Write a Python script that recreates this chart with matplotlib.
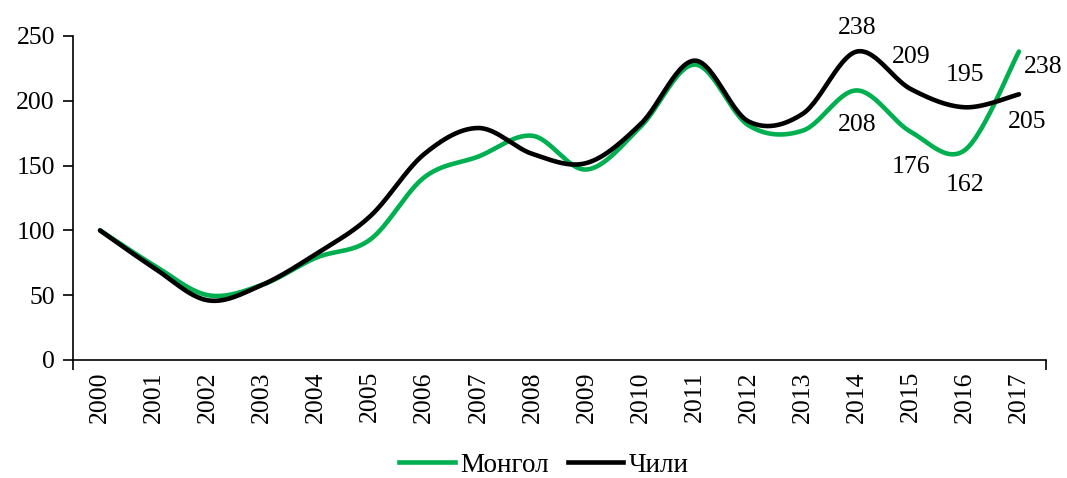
"""Монгол vs Чили index chart, 2000 = 100, smoothed lines like Excel."""

import matplotlib
matplotlib.use("Agg")
import matplotlib.pyplot as plt
import numpy as np
from matplotlib.lines import Line2D

YEARS = [str(y) for y in range(2000, 2018)]
MONGOLIA = [100, 73, 50, 58, 79, 93, 141, 157, 173, 147, 180, 228, 181, 177, 208, 176, 162, 238]
CHILE = [100, 71, 46, 58, 82, 111, 159, 179, 159, 152, 182, 231, 184, 190, 238, 209, 195, 205]

GREEN = "#00B050"
plt.rcParams["font.family"] = ["Liberation Serif", "DejaVu Serif"]


def smooth(x, y, n=30):
    """Catmull-Rom bezier smoothing (what Excel's 'smoothed line' does)."""
    x = np.asarray(x, float)
    y = np.asarray(y, float)
    px = np.concatenate([[x[0]], x, [x[-1]]])
    py = np.concatenate([[y[0]], y, [y[-1]]])
    t = np.linspace(0, 1, n)[:, None]
    xs, ys = [], []
    for i in range(1, len(px) - 2):
        p0 = np.array([px[i], py[i]])
        p3 = np.array([px[i + 1], py[i + 1]])
        c1 = p0 + (p3 - np.array([px[i - 1], py[i - 1]])) / 6
        c2 = p3 - (np.array([px[i + 2], py[i + 2]]) - p0) / 6
        pts = ((1 - t) ** 3) * p0 + 3 * ((1 - t) ** 2) * t * c1 + 3 * (1 - t) * t ** 2 * c2 + t ** 3 * p3
        xs.append(pts[:, 0])
        ys.append(pts[:, 1])
    return np.concatenate(xs), np.concatenate(ys)


fig = plt.figure(figsize=(10.67, 4.78), dpi=100)
ax = fig.add_axes([73 / 1067, 1 - 360 / 478, (1046 - 73) / 1067, (360 - 36) / 478])

x = np.arange(len(YEARS))
mx, my = smooth(x, MONGOLIA)
cx, cy = smooth(x, CHILE)
ax.plot(mx, my, color=GREEN, lw=3.3, solid_capstyle="round")
ax.plot(cx, cy, color="black", lw=3.3, solid_capstyle="round")

ax.set_xlim(-0.5, len(YEARS) - 0.5)
ax.set_ylim(0, 250)
ax.set_yticks([0, 50, 100, 150, 200, 250])
ax.set_xticks(x)
ax.set_xticklabels(YEARS, rotation=90)
ax.set_xticks([-0.5, len(YEARS) - 0.5], minor=True)
ax.tick_params(axis="x", which="major", length=0, labelsize=18.5, pad=8)
ax.tick_params(axis="x", which="minor", length=7, width=1.2, direction="out")
ax.tick_params(axis="y", length=7, width=1.2, labelsize=18.5, pad=6)
for s in ["top", "right"]:
    ax.spines[s].set_visible(False)
for s in ["left", "bottom"]:
    ax.spines[s].set_linewidth(1.2)

# data labels on the last four years
lab = dict(fontsize=18.5, ha="center", va="center", textcoords="offset pixels")
chile_off = [(0, 24), (0, 32), (0, 32), (8, -28)]
mong_off = [(0, -35), (0, -35), (0, -35), (24, -15)]
for k, i in enumerate(range(14, 18)):
    ax.annotate(str(CHILE[i]), (i, CHILE[i]), xytext=chile_off[k], **lab)
    ax.annotate(str(MONGOLIA[i]), (i, MONGOLIA[i]), xytext=mong_off[k], **lab)

handles = [Line2D([], [], color=GREEN, lw=3.3), Line2D([], [], color="black", lw=3.3)]
fig.legend(handles, ["Монгол", "Чили"], loc="center", bbox_to_anchor=(0.51, 1 - 465 / 478),
           ncol=2, frameon=False, fontsize=19.5, handlelength=2.05, handletextpad=0.2,
           columnspacing=0.7, borderpad=0.2)

fig.savefig("out.png", dpi=100)
